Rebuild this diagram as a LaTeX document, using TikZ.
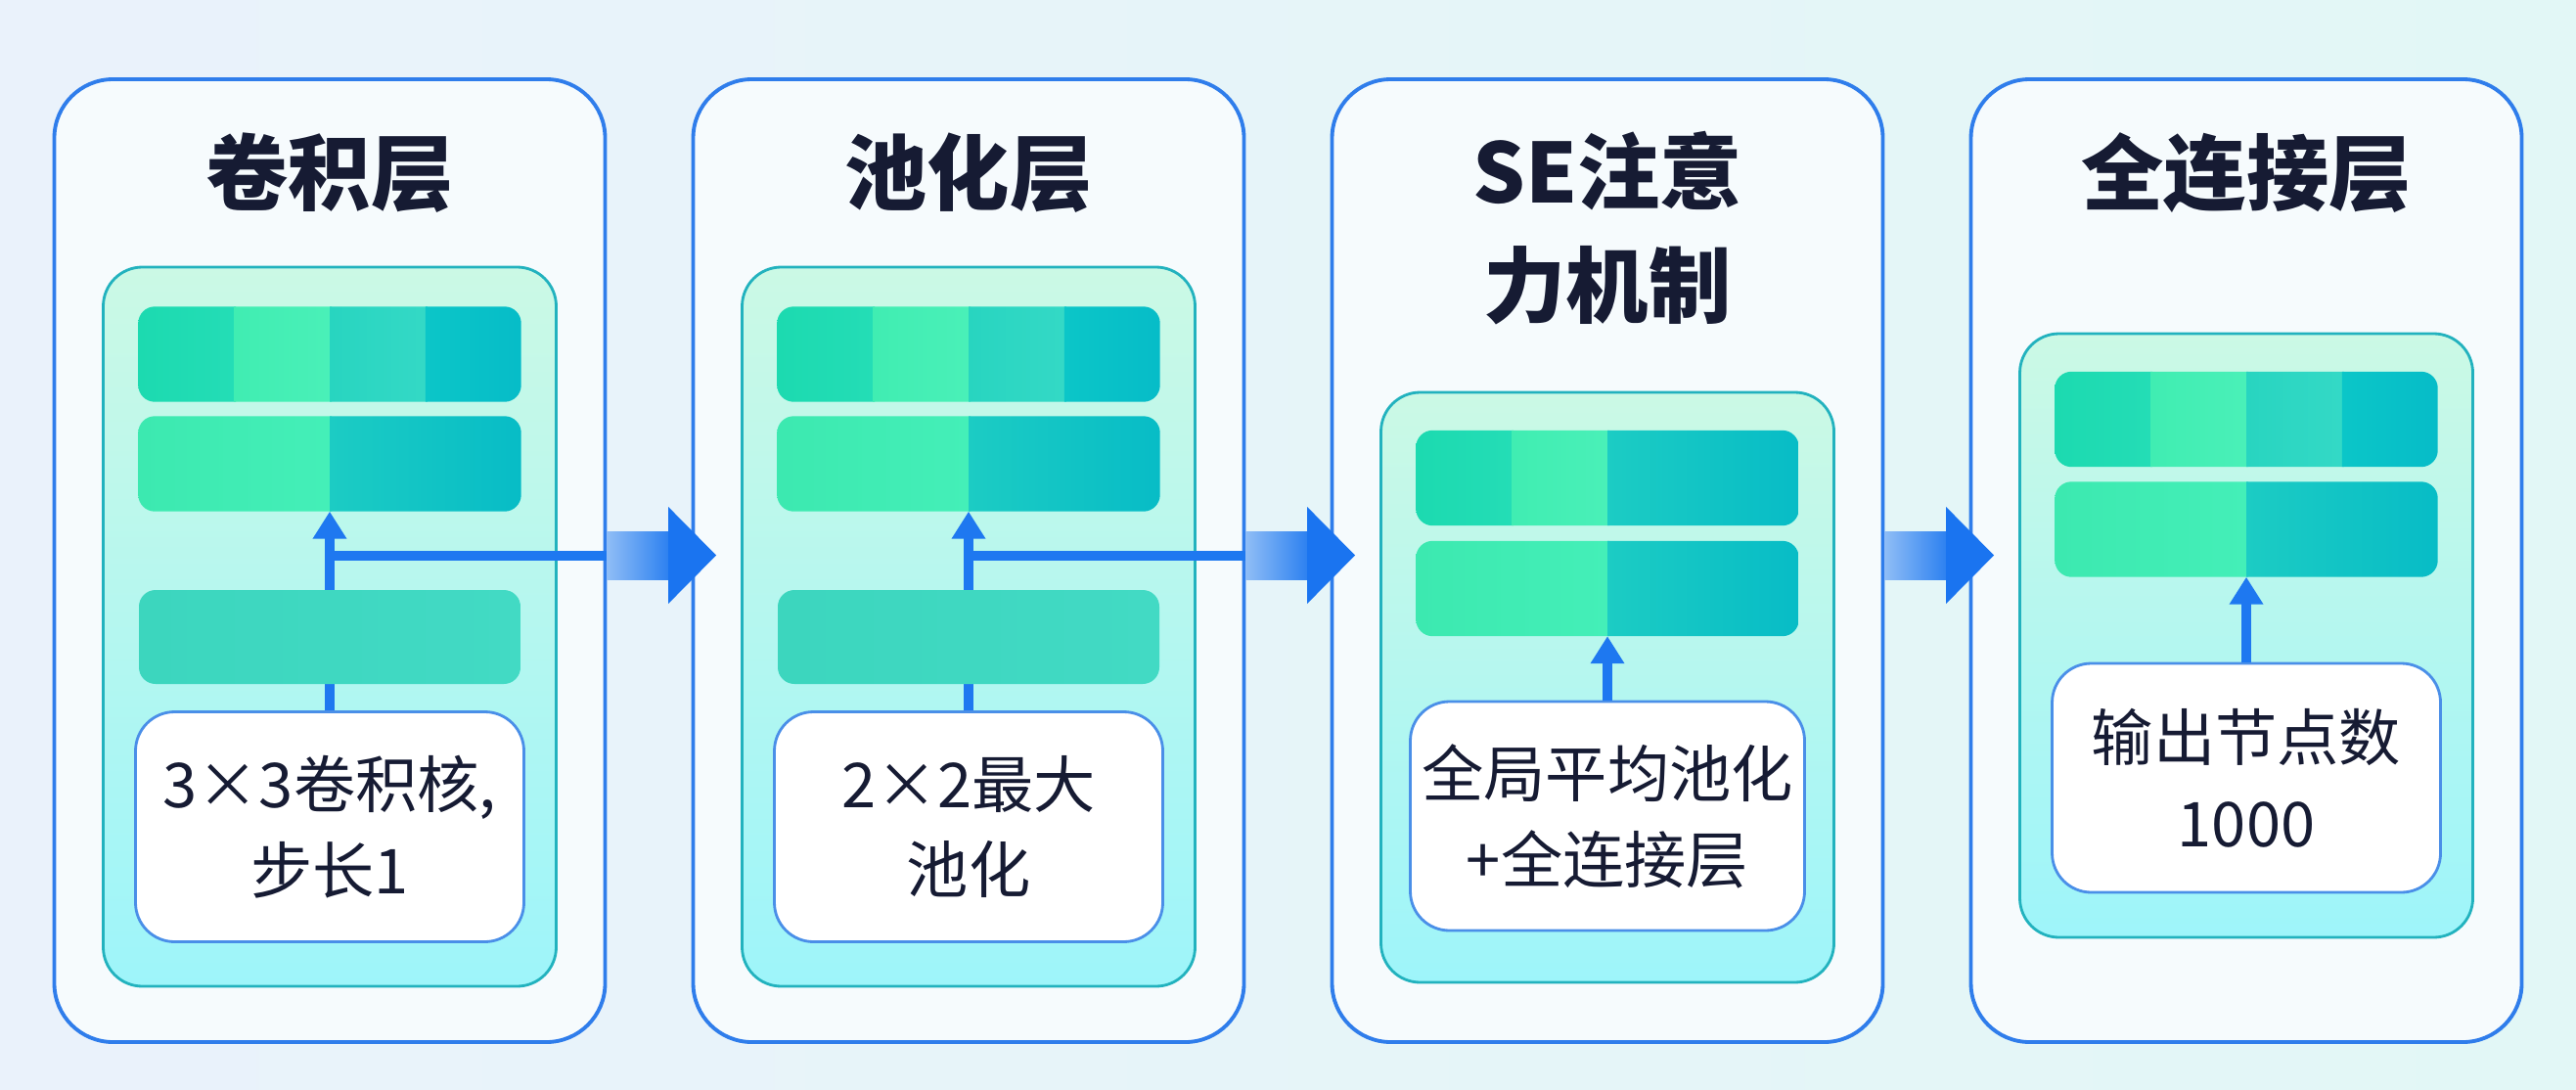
\documentclass[tikz,border=0pt]{standalone}
\usepackage{fontspec}
\setmainfont{Noto Sans CJK SC}
\usetikzlibrary{arrows.meta,calc}

\definecolor{bgleft}{HTML}{EAF2FB}
\definecolor{bgright}{HTML}{E2F7F6}
\definecolor{panelblue}{HTML}{2F7DEB}
\definecolor{panelfill}{HTML}{F6FBFD}
\definecolor{innerteal}{HTML}{22B2BE}
\definecolor{innertop}{HTML}{CBF9E5}
\definecolor{innerbot}{HTML}{9EF5FA}
\definecolor{boxblue}{HTML}{4A8FE8}
\definecolor{textdark}{HTML}{161B33}
\definecolor{flowblue}{HTML}{1E78F0}
\definecolor{arrowlight}{HTML}{8FBDF6}
\definecolor{arrowmid}{HTML}{2B80F0}
\definecolor{arrowdark}{HTML}{1A74F0}
\definecolor{segAa}{HTML}{1CDAB0}
\definecolor{segAb}{HTML}{24DDB6}
\definecolor{segBa}{HTML}{40EDB2}
\definecolor{segBb}{HTML}{4AF0B8}
\definecolor{segCa}{HTML}{28D5C0}
\definecolor{segCb}{HTML}{34D9C6}
\definecolor{segDa}{HTML}{0BC6C8}
\definecolor{segDb}{HTML}{06BCC8}
\definecolor{halfLa}{HTML}{3CE9B0}
\definecolor{halfLb}{HTML}{44EFB8}
\definecolor{halfRa}{HTML}{1CCCC4}
\definecolor{halfRb}{HTML}{07BCC6}
\definecolor{barmida}{HTML}{3CD6BE}
\definecolor{barmidb}{HTML}{42DAC4}

\tikzset{
  outerbox/.style={draw=panelblue, line width=1.1pt, fill=panelfill, rounded corners=0.6cm,
    minimum width=5.63cm, minimum height=9.84cm},
  innerbox/.style={draw=innerteal, line width=0.8pt, top color=innertop, bottom color=innerbot,
    rounded corners=0.4cm, minimum width=4.63cm},
  bar/.style={rounded corners=0.17cm, minimum width=3.9cm, minimum height=0.96cm, inner sep=0pt},
  whitebox/.style={draw=boxblue, line width=0.8pt, fill=white, rounded corners=0.4cm,
    minimum width=3.97cm, minimum height=2.35cm, align=center, text=textdark,
    font=\fontsize{18}{25}\selectfont},
  title/.style={font=\fontsize{24}{33}\selectfont\bfseries, text=textdark, align=center},
  flow/.style={draw=flowblue, line width=2.8pt},
  flowarrow/.style={flow, -{Triangle[width=0.33cm,length=0.28cm]}},
}

% segmented bar: node name, list of from/to/leftcolor/rightcolor
\newcommand{\segbar}[2]{%
  \begin{scope}
  \clip[rounded corners=0.17cm] (#1.south west) rectangle (#1.north east);
  \foreach \f/\g/\ca/\cb in #2
    \shade[left color=\ca, right color=\cb] ($(#1.south west)!\f!(#1.south east)$)
      rectangle ($(#1.north west)!\g!(#1.north east)+(0.02,0)$);
  \end{scope}}
\def\fourseg{0/0.25/segAa/segAb, 0.25/0.5/segBa/segBb, 0.5/0.75/segCa/segCb, 0.75/1/segDa/segDb}
\def\threeseg{0/0.25/segAa/segAb, 0.25/0.5/segBa/segBb, 0.5/1/halfRa/halfRb}
\def\twoseg{0/0.5/halfLa/halfLb, 0.5/1/halfRa/halfRb}

\begin{document}
\begin{tikzpicture}
\useasboundingbox (0,0) rectangle (26.33,11.13);
\shade[left color=bgleft, right color=bgright] (0,0) rectangle (26.33,11.13);

% outer panels
\node[outerbox] (p1) at (3.37,5.40) {};
\node[outerbox] (p2) at (9.90,5.40) {};
\node[outerbox] (p3) at (16.43,5.40) {};
\node[outerbox] (p4) at (22.96,5.40) {};

\node[title] (t1) at (3.37,9.36) {卷积层};
\node[title] (t2) at (9.90,9.36) {池化层};
\node[title] (t3) at (16.43,8.80) {SE注意\\力机制};
\node[title] (t4) at (22.96,9.36) {全连接层};

% conv layer
\node[innerbox, minimum height=7.35cm] (i1) at (3.37,4.725) {};
\node[bar] (b11) at (3.37,7.51) {};
\segbar{b11}{\fourseg}
\node[bar] (b12) at (3.37,6.39) {};
\segbar{b12}{\twoseg}
\node[whitebox] (w1) at (3.37,2.68) {3×3卷积核,\\步长1};
\draw[flowarrow] (w1.north) -- (b12.south);
\coordinate (j1) at (3.37,5.45);
\draw[flow] (j1) -- (j1 -| p1.east);
\node[bar, left color=barmida, right color=barmidb] (b13) at (3.37,4.62) {};

% pooling layer
\node[innerbox, minimum height=7.35cm] (i2) at (9.90,4.725) {};
\node[bar] (b21) at (9.90,7.51) {};
\segbar{b21}{\fourseg}
\node[bar] (b22) at (9.90,6.39) {};
\segbar{b22}{\twoseg}
\node[whitebox] (w2) at (9.90,2.68) {2×2最大\\池化};
\draw[flowarrow] (w2.north) -- (b22.south);
\coordinate (j2) at (9.90,5.45);
\draw[flow] (j2) -- (j2 -| p2.east);
\node[bar, left color=barmida, right color=barmidb] (b23) at (9.90,4.62) {};

% SE block
\node[innerbox, minimum height=6.03cm] (i3) at (16.43,4.105) {};
\node[bar] (b31) at (16.43,6.245) {};
\segbar{b31}{\threeseg}
\node[bar] (b32) at (16.43,5.115) {};
\segbar{b32}{\twoseg}
\node[whitebox, minimum height=2.34cm] (w3) at (16.43,2.79) {全局平均池化\\+全连接层};
\draw[flowarrow] (w3.north) -- (b32.south);

% fully connected
\node[innerbox, minimum height=6.17cm] (i4) at (22.96,4.635) {};
\node[bar] (b41) at (22.96,6.845) {};
\segbar{b41}{\fourseg}
\node[bar] (b42) at (22.96,5.72) {};
\segbar{b42}{\twoseg}
\node[whitebox, minimum height=2.34cm] (w4) at (22.96,3.18) {输出节点数\\1000};
\draw[flowarrow] (w4.north) -- (b42.south);

% big arrows between panels
\foreach \a/\b in {p1/p2, p2/p3, p3/p4}{
  \shade[left color=arrowlight, right color=arrowmid] ($(\a.east)+(0,-0.19)$) rectangle ($(\b.west)+(-0.22,0.30)$);
  \fill[arrowdark] ($(\b.west)+(-0.235,0.55)$) -- ($(\b.west)+(0.255,0.055)$) -- ($(\b.west)+(-0.235,-0.44)$) -- cycle;
}
\end{tikzpicture}
\end{document}
